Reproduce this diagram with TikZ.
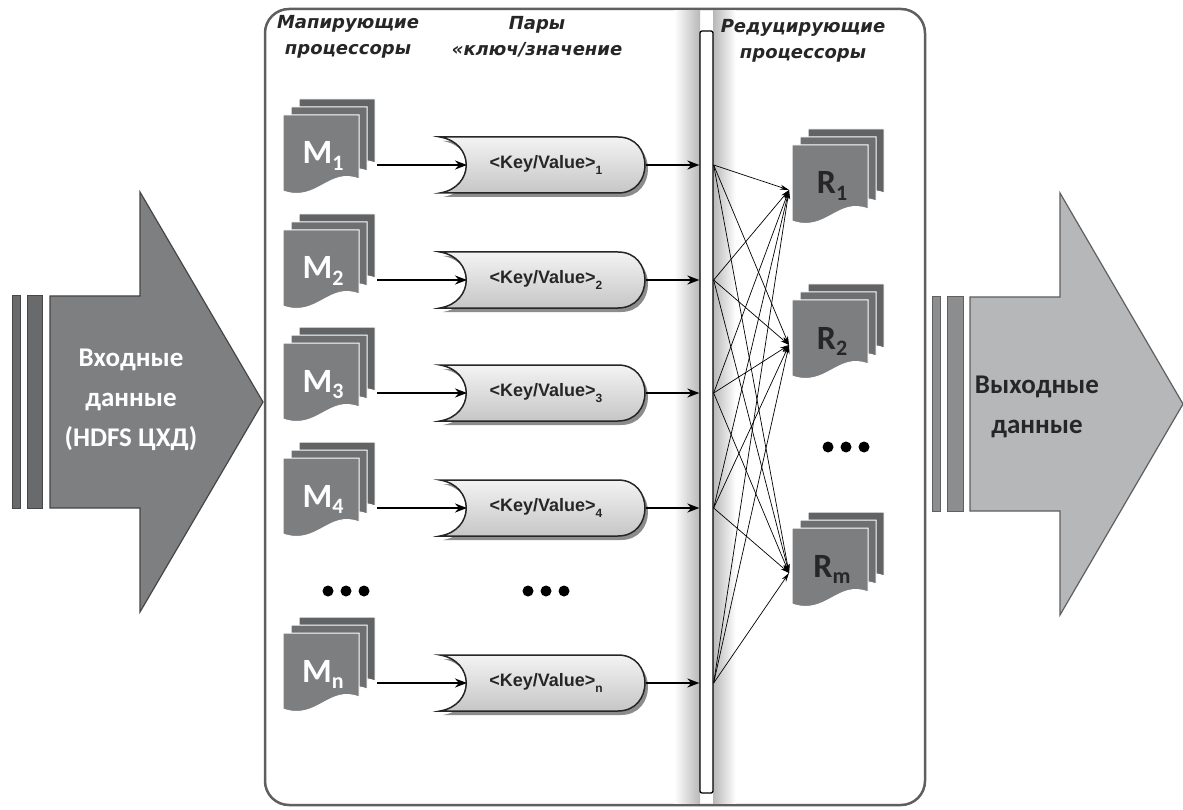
\documentclass[tikz,border=0pt]{standalone}
\usepackage{fontspec}
\setmainfont{Carlito}
\newfontfamily\hdrfont{DejaVu Sans}[BoldItalicFont={DejaVu Sans Bold Oblique}]
\newfontfamily\kvfont{Liberation Sans}
\usetikzlibrary{arrows.meta,calc,positioning}

\definecolor{infill}{RGB}{126,127,129}
\definecolor{inbarfill}{RGB}{105,106,108}
\definecolor{inedge}{RGB}{70,70,70}
\definecolor{outfill}{RGB}{182,183,185}
\definecolor{outbarfill}{RGB}{140,141,143}
\definecolor{outedge}{RGB}{95,95,95}
\definecolor{docgray}{RGB}{125,126,128}
\definecolor{docmid}{RGB}{110,111,113}
\definecolor{docback}{RGB}{98,99,101}
\definecolor{boxedge}{RGB}{95,95,95}
\definecolor{kvtop}{RGB}{243,243,243}
\definecolor{kvbot}{RGB}{198,198,198}

\newcommand{\lsub}[1]{\raisebox{-0.2em}{\fontsize{22}{22}\selectfont #1}}
\newcommand{\kvsub}[1]{\raisebox{-0.35em}{\fontsize{12}{12}\selectfont #1}}

% three stacked pages: name, left x, top y of front page, label, label colour
\newcommand{\docstack}[5]{%
  \foreach \dd/\shd in {16/docback,8/docmid,0/docgray}
    \filldraw[page,fill=\shd] ({#2+\dd},{#3-\dd}) -- ++(76,0) -- ++(0,64)
      .. controls +(-30,-12) and +(34,12) .. ++(-76,12) -- cycle;
  \node[doclabel,text=#5] (#1) at ({#2+40},{#3+49}) {#4};
  \coordinate (#1-out) at ({#2+94},{#3+50});
  \coordinate (#1-in) at ({#2-3},{#3+45});
}

% key/value store outline around centre y
\newcommand{\kvpath}[1]{(440,{#1-28}) -- (618,{#1-28})
  .. controls (654,{#1-28}) and (654,{#1+28}) .. (618,{#1+28})
  -- (440,{#1+28}) .. controls (475,{#1+22}) and (475,{#1-22}) .. (440,{#1-28}) -- cycle}

\newcommand{\kvstore}[2]{%
  \fill[kvshadow,shift={(3,4)}] \kvpath{#2};
  \draw[kvbox] \kvpath{#2};
  \node[kvlabel] (kv#1) at (546,#2) {<Key/Value>\kvsub{#1}};
  \coordinate (kv#1-in) at (467,#2);
  \coordinate (kv#1-out) at (646,#2);
}

\tikzset{
  inbar/.style    = {fill=inbarfill, draw=inedge, line width=1pt},
  inarrow/.style  = {fill=infill, draw=inedge, line width=1.2pt},
  outbar/.style   = {fill=outbarfill, draw=outedge, line width=1pt},
  outarrow/.style = {fill=outfill, draw=outedge, line width=1.2pt},
  bigtext/.style  = {font=\bfseries\fontsize{27}{40}\selectfont, align=center},
  hdr/.style      = {font=\hdrfont\bfseries\itshape\fontsize{18}{26}\selectfont,
                     align=center, text=black!85},
  mainbox/.style  = {draw=boxedge, line width=2.5pt, fill=white, rounded corners=24pt},
  busbar/.style   = {draw=black, line width=1.3pt, fill=white, rounded corners=2pt,
                     minimum width=13pt, minimum height=762pt, inner sep=0pt},
  page/.style     = {draw=white, line width=1pt},
  doclabel/.style = {font=\bfseries\fontsize{34}{34}\selectfont, anchor=base, inner sep=0pt},
  kvbox/.style    = {draw=black!85, line width=1.5pt, top color=kvtop, bottom color=kvbot},
  kvshadow/.style = {fill=black!45},
  kvlabel/.style  = {font=\kvfont\bfseries\fontsize{18}{18}\selectfont, text=black!85},
  flow/.style     = {-{Stealth[length=12pt,width=9pt]}, line width=1.8pt},
  fan/.style      = {-{Stealth[length=9pt,width=5pt]}, line width=0.7pt},
}

\begin{document}
\begin{tikzpicture}[x=1pt,y=-1pt]
  \useasboundingbox (0,0) rectangle (1183,810);

  % input arrow
  \filldraw[inbar] (12,296) rectangle (20,508);
  \filldraw[inbar] (27,296) rectangle (42,508);
  \filldraw[inarrow] (50,296) -- (140,296) -- (140,192) -- (263,402) -- (140,612)
    -- (140,508) -- (50,508) -- cycle;
  \node[bigtext,text=white] (input) at (131,400) {Входные\\данные\\(HDFS ЦХД)};

  % output arrow
  \filldraw[outbar] (932,297) rectangle (940,511);
  \filldraw[outbar] (947,297) rectangle (963,511);
  \filldraw[outarrow] (970,297) -- (1060,297) -- (1060,193) -- (1183,404) -- (1060,615)
    -- (1060,511) -- (970,511) -- cycle;
  \node[bigtext,text=black!85] (output) at (1037,407) {Выходные\\данные};

  % processing frame with the shuffle bus
  \draw[mainbox] (265,9) rectangle (925,805);
  \shade[left color=white, right color=black!28] (674,11) rectangle (700,803);
  \shade[left color=black!28, right color=white] (713,11) rectangle (736,803);
  \node[busbar] (bus) at (706.5,412) {};

  \node[hdr] (maphdr) at (348,37) {Мапирующие\\процессоры};
  \node[hdr] (kvhdr) at (537,37) {Пары\\«ключ/значение};
  \node[hdr] (redhdr) at (803,41) {Редуцирующие\\процессоры};

  \docstack{m1}{283}{115}{M\lsub{1}}{white}
  \docstack{m2}{283}{230}{M\lsub{2}}{white}
  \docstack{m3}{283}{343}{M\lsub{3}}{white}
  \docstack{m4}{283}{458}{M\lsub{4}}{white}
  \docstack{mn}{283}{633}{M\lsub{n}}{white}

  \kvstore{1}{165}
  \kvstore{2}{280}
  \kvstore{3}{393}
  \kvstore{4}{508}
  \kvstore{n}{683}

  \docstack{r1}{792}{145}{R\lsub{1}}{black!85}
  \docstack{r2}{792}{300}{R\lsub{2}}{black!85}
  \docstack{rm}{792}{528}{R\lsub{m}}{black!85}

  \foreach \s in {1,2,3,4,n}{
    \draw[flow] (m\s-out) -- (kv\s-in);
    \draw[flow] (kv\s-out) -- (kv\s-out -| bus.west);
    \foreach \r in {1,2,m}
      \draw[fan] (kv\s-out -| bus.east) -- (r\r-in);
  }

  % ellipses
  \foreach \dx in {-18,0,18}{
    \fill (346+\dx,591) circle (5.5);
    \fill (546+\dx,591) circle (5.5);
    \fill (846+\dx,447) circle (5.5);
  }
\end{tikzpicture}
\end{document}
